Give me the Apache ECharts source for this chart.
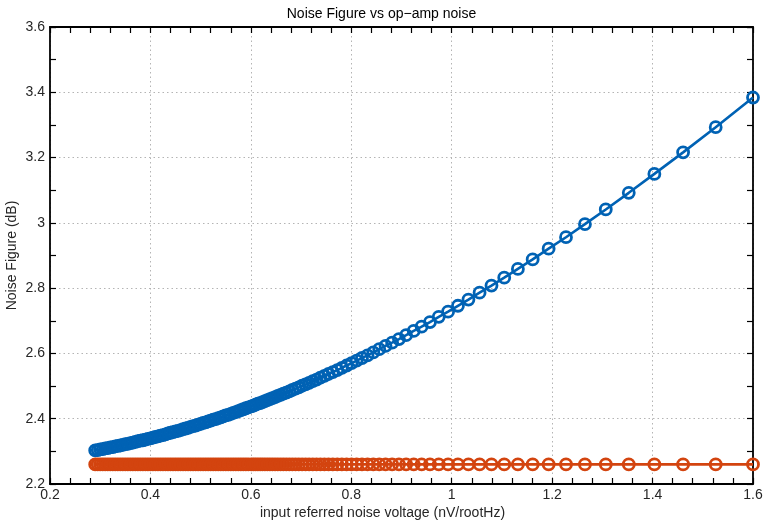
<!DOCTYPE html>
<html>
<head>
<meta charset="utf-8">
<script src="https://cdn.jsdelivr.net/npm/echarts@6/dist/echarts.min.js"></script>
<style>
html,body{margin:0;padding:0;background:#fff;}
#chart{width:763px;height:525px;}
</style>
</head>
<body>
<div id="chart"></div>
<script>
// ---- data ----
var titleText = 'Noise Figure vs op\u2212amp noise';
var xName = 'input referred noise voltage (nV/rootHz)';
var yName = 'Noise Figure (dB)';
var xTicks = [0.2, 0.4, 0.6, 0.8, 1.0, 1.2, 1.4, 1.6];
var yTicks = [2.2, 2.4, 2.6, 2.8, 3.0, 3.2, 3.4, 3.6];

// input referred noise voltage (x)
var noiseVoltage = [
  0.290, 0.295, 0.300, 0.305, 0.310, 0.315, 0.320, 0.325, 0.330, 0.335,
  0.340, 0.345, 0.350, 0.355, 0.360, 0.365, 0.370, 0.375, 0.380, 0.385,
  0.390, 0.395, 0.400, 0.405, 0.410, 0.415, 0.420, 0.425, 0.430, 0.435,
  0.440, 0.445, 0.450, 0.455, 0.460, 0.465, 0.470, 0.475, 0.480, 0.485,
  0.490, 0.495, 0.500, 0.505, 0.510, 0.515, 0.520, 0.525, 0.530, 0.535,
  0.540, 0.545, 0.550, 0.555, 0.560, 0.565, 0.570, 0.575, 0.580, 0.585,
  0.590, 0.595,
  0.6009, 0.6052, 0.6095, 0.6140, 0.6186, 0.6232, 0.6280, 0.6329, 0.6379, 0.6430,
  0.6483, 0.6536, 0.6592, 0.6648, 0.6706, 0.6766, 0.6827, 0.6890, 0.6954, 0.7021,
  0.7090, 0.7160, 0.7233, 0.7308, 0.7385, 0.7465, 0.7547, 0.7632, 0.7721, 0.7812,
  0.7907, 0.8005, 0.8107, 0.8213, 0.8323, 0.8438, 0.8557, 0.8682, 0.8813, 0.8949,
  0.9092, 0.9243, 0.9401, 0.9567, 0.9742, 0.9928, 1.0124, 1.0333, 1.0555, 1.0792,
  1.1046, 1.1318, 1.1612, 1.1930, 1.2276, 1.2653, 1.3068, 1.3526, 1.4036, 1.4608,
  1.5257, 1.6000
];

// Noise Figure (dB), blue curve
var nfBlue = [
  2.303, 2.304, 2.306, 2.307, 2.309, 2.310, 2.312, 2.313, 2.315, 2.317,
  2.318, 2.320, 2.322, 2.323, 2.325, 2.327, 2.329, 2.331, 2.333, 2.334,
  2.336, 2.338, 2.340, 2.342, 2.344, 2.346, 2.348, 2.350, 2.352, 2.355,
  2.357, 2.359, 2.361, 2.363, 2.365, 2.368, 2.370, 2.372, 2.375, 2.377,
  2.379, 2.382, 2.384, 2.387, 2.389, 2.392, 2.394, 2.397, 2.399, 2.402,
  2.404, 2.407, 2.410, 2.412, 2.415, 2.418, 2.420, 2.423, 2.426, 2.429,
  2.432, 2.435,
  2.438, 2.440, 2.443, 2.446, 2.448, 2.451, 2.454, 2.457, 2.460, 2.463,
  2.466, 2.470, 2.473, 2.477, 2.480, 2.484, 2.488, 2.492, 2.496, 2.501,
  2.505, 2.510, 2.515, 2.520, 2.526, 2.531, 2.537, 2.543, 2.549, 2.556,
  2.563, 2.570, 2.578, 2.586, 2.594, 2.603, 2.613, 2.623, 2.633, 2.644,
  2.656, 2.669, 2.682, 2.696, 2.712, 2.728, 2.746, 2.765, 2.786, 2.808,
  2.832, 2.859, 2.888, 2.921, 2.956, 2.996, 3.041, 3.092, 3.150, 3.216,
  3.293, 3.384
];

// Noise Figure (dB), red curve
var nfRed = [
  2.26, 2.26, 2.26, 2.26, 2.26, 2.26, 2.26, 2.26, 2.26, 2.26,
  2.26, 2.26, 2.26, 2.26, 2.26, 2.26, 2.26, 2.26, 2.26, 2.26,
  2.26, 2.26, 2.26, 2.26, 2.26, 2.26, 2.26, 2.26, 2.26, 2.26,
  2.26, 2.26, 2.26, 2.26, 2.26, 2.26, 2.26, 2.26, 2.26, 2.26,
  2.26, 2.26, 2.26, 2.26, 2.26, 2.26, 2.26, 2.26, 2.26, 2.26,
  2.26, 2.26, 2.26, 2.26, 2.26, 2.26, 2.26, 2.26, 2.26, 2.26,
  2.26, 2.26,
  2.26, 2.26, 2.26, 2.26, 2.26, 2.26, 2.26, 2.26, 2.26, 2.26,
  2.26, 2.26, 2.26, 2.26, 2.26, 2.26, 2.26, 2.26, 2.26, 2.26,
  2.26, 2.26, 2.26, 2.26, 2.26, 2.26, 2.26, 2.26, 2.26, 2.26,
  2.26, 2.26, 2.26, 2.26, 2.26, 2.26, 2.26, 2.26, 2.26, 2.26,
  2.26, 2.26, 2.26, 2.26, 2.26, 2.26, 2.26, 2.26, 2.26, 2.26,
  2.26, 2.26, 2.26, 2.26, 2.26, 2.26, 2.26, 2.26, 2.26, 2.26,
  2.26, 2.26
];

// ---- build chart ----
var FONT = '"Liberation Sans", Arial, Helvetica, sans-serif';
var TXT = '#262626';
var BLUE = '#0062b4';
var RED = '#d3440f';

function pairs(xs, ys) {
  var out = [];
  for (var i = 0; i < xs.length; i++) out.push([xs[i], ys[i]]);
  return out;
}

var xMin = xTicks[0], xMax = xTicks[xTicks.length - 1], xInt = xTicks[1] - xTicks[0];
var yMin = yTicks[0], yMax = yTicks[yTicks.length - 1], yInt = yTicks[1] - yTicks[0];

var axisLine = { show: true, onZero: false, lineStyle: { color: '#000', width: 1.8 } };
var tickIn = { show: true, inside: true, length: 6, lineStyle: { color: '#000', width: 1.2 } };
var minorX = { show: true, splitNumber: 5, length: 6, lineStyle: { color: '#000', width: 1.2 } };
var minorY = { show: true, splitNumber: 2, length: 6, lineStyle: { color: '#000', width: 1.2 } };
var grid = { show: true, lineStyle: { color: '#b4b4b4', type: [1.5, 3], width: 1 } };

var chart = echarts.init(document.getElementById('chart'), null, { renderer: 'canvas' });
chart.setOption({
  animation: false,
  backgroundColor: '#fff',
  title: {
    text: titleText, left: 'center', top: 2,
    textStyle: { fontFamily: FONT, fontSize: 14, fontWeight: 'normal', color: '#000' }
  },
  grid: { left: 50, right: 10, top: 27, bottom: 41, containLabel: false, outerBoundsMode: 'none' },
  xAxis: [{
    type: 'value', position: 'bottom', min: xMin, max: xMax, interval: xInt,
    name: xName, nameLocation: 'middle', nameGap: 22, nameMoveOverlap: false,
    nameTextStyle: { fontFamily: FONT, fontSize: 14, color: TXT, padding: [0, 38, 0, 0] },
    axisLine: axisLine, axisTick: tickIn, minorTick: minorX,
    splitLine: grid, minorSplitLine: { show: false },
    axisLabel: { fontFamily: FONT, fontSize: 14, color: TXT, margin: 4,
      formatter: function (v) { return String(+v.toFixed(1)); } }
  }, {
    type: 'value', position: 'top', min: xMin, max: xMax, interval: xInt,
    axisLine: axisLine, axisTick: tickIn, minorTick: minorX,
    splitLine: { show: false }, axisLabel: { show: false }
  }],
  yAxis: [{
    type: 'value', position: 'left', min: yMin, max: yMax, interval: yInt,
    name: yName, nameLocation: 'middle', nameGap: 31, nameRotate: 90, nameMoveOverlap: false,
    nameTextStyle: { fontFamily: FONT, fontSize: 14, color: TXT },
    axisLine: axisLine, axisTick: tickIn, minorTick: minorY,
    splitLine: grid,
    axisLabel: { fontFamily: FONT, fontSize: 14, color: TXT, margin: 5,
      formatter: function (v) { return String(+v.toFixed(1)); } }
  }, {
    type: 'value', position: 'right', min: yMin, max: yMax, interval: yInt,
    axisLine: axisLine, axisTick: tickIn, minorTick: minorY,
    splitLine: { show: false }, axisLabel: { show: false }
  }],
  series: [{
    type: 'line', name: 'blue', xAxisIndex: 0, yAxisIndex: 0,
    data: pairs(noiseVoltage, nfBlue),
    showAllSymbol: true, symbol: 'circle', symbolSize: 11,
    lineStyle: { color: BLUE, width: 2.6 },
    itemStyle: { color: 'rgba(0,0,0,0)', borderColor: BLUE, borderWidth: 2.8 },
    silent: true, z: 3
  }, {
    type: 'line', name: 'red', xAxisIndex: 0, yAxisIndex: 0,
    data: pairs(noiseVoltage, nfRed),
    showAllSymbol: true, symbol: 'circle', symbolSize: 11,
    lineStyle: { color: RED, width: 2.6 },
    itemStyle: { color: 'rgba(0,0,0,0)', borderColor: RED, borderWidth: 2.8 },
    silent: true, z: 3
  }]
});
</script>
</body>
</html>
